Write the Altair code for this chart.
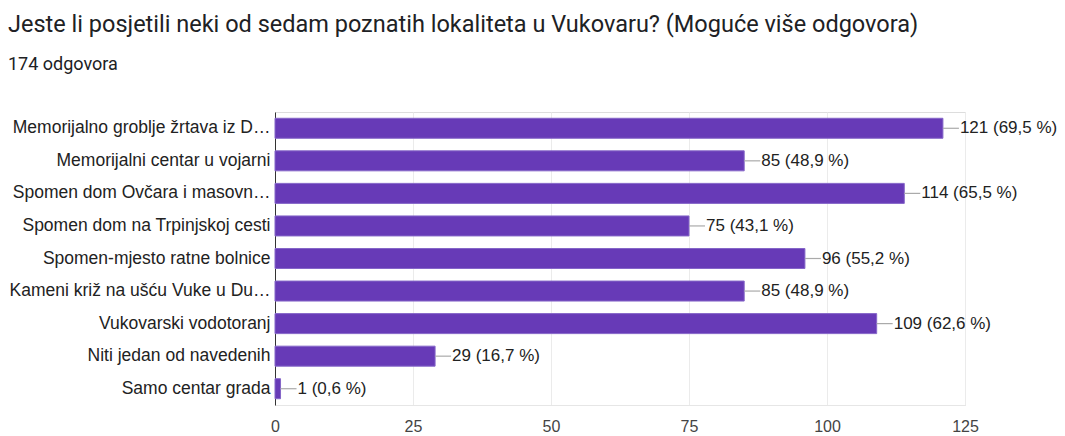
import altair as alt
import pandas as pd

categories = [
    "Memorijalno groblje žrtava iz D…",
    "Memorijalni centar u vojarni",
    "Spomen dom Ovčara i masovn…",
    "Spomen dom na Trpinjskoj cesti",
    "Spomen-mjesto ratne bolnice",
    "Kameni križ na ušću Vuke u Du…",
    "Vukovarski vodotoranj",
    "Niti jedan od navedenih",
    "Samo centar grada",
]
counts = [121, 85, 114, 75, 96, 85, 109, 29, 1]
percents = ["69,5", "48,9", "65,5", "43,1", "55,2", "48,9", "62,6", "16,7", "0,6"]
x_ticks = [0, 25, 50, 75, 100, 125]

title_text = "Jeste li posjetili neki od sedam poznatih lokaliteta u Vukovaru? (Moguće više odgovora)"
subtitle_text = "174 odgovora"

df = pd.DataFrame({
    "cat": categories,
    "count": counts,
    "label": [f"{c} ({p} %)" for c, p in zip(counts, percents)],
})

W, H = 690, 293

x = alt.X("count:Q", scale=alt.Scale(domain=[0, 125], nice=False),
          axis=alt.Axis(values=x_ticks, title=None, labelFontSize=16, labelColor="#444444",
                        labelFont="Liberation Sans", labelPadding=13, ticks=False,
                        domainColor="#e6e6e6", gridColor="#ebebeb", labelFlush=False))
y = alt.Y("cat:N", sort=categories,
          axis=alt.Axis(title=None, labelFontSize=17.5, labelColor="#222222", labelFont="Liberation Sans",
                        ticks=False, labelPadding=5, domainColor="#333333", labelLimit=300))

bars = alt.Chart(df).mark_bar(size=20, color="#673ab7", stroke="#8566c8", strokeWidth=1).encode(x=x, y=y)
leaders = alt.Chart(df).mark_rule(color="#aaaaaa", strokeWidth=1.2, x2Offset=16).encode(
    x="count:Q", x2="count:Q", y=alt.Y("cat:N", sort=categories))
labels = alt.Chart(df).mark_text(align="left", baseline="middle", dx=17, fontSize=17,
                                 font="Liberation Sans", color="#222222").encode(
    x="count:Q", y=alt.Y("cat:N", sort=categories), text="label:N")

title_df = pd.DataFrame({"t": [title_text]})
sub_df = pd.DataFrame({"t": [subtitle_text]})
title = alt.Chart(title_df).mark_text(align="left", baseline="alphabetic", fontSize=23.5, font="Roboto",
                                      color="#202124").encode(
    x=alt.value(-267), y=alt.value(-80), text="t:N")
subtitle = alt.Chart(sub_df).mark_text(align="left", baseline="alphabetic", fontSize=18, font="Roboto",
                                       color="#202124").encode(
    x=alt.value(-267), y=alt.value(-42), text="t:N")

chart = alt.layer(bars, leaders, labels, title, subtitle).properties(
    width=W, height=H,
    autosize=alt.AutoSizeParams(type="none"),
    padding={"left": 267, "top": 104, "right": 92, "bottom": 28},
).configure_view(stroke=None).configure(background="white")

chart.save("out.html", embed_options={"renderer": "svg", "actions": False})
